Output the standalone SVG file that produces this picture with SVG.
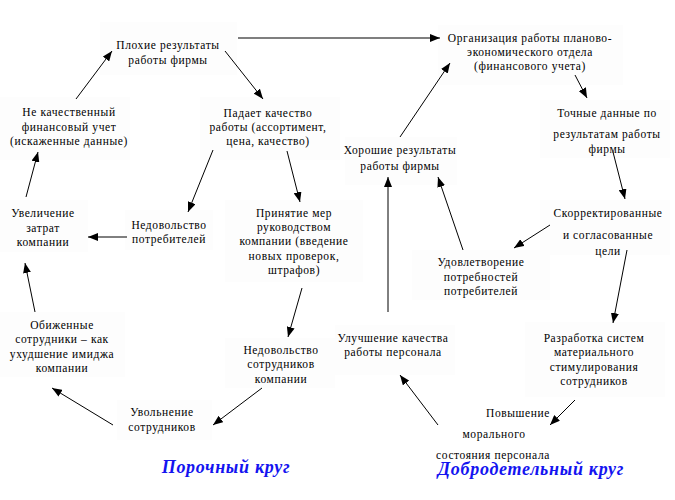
<svg xmlns="http://www.w3.org/2000/svg" width="675" height="500" viewBox="0 0 675 500">
<defs>
<marker id="ah" markerUnits="userSpaceOnUse" markerWidth="10" markerHeight="8" refX="10" refY="4" orient="auto">
<path d="M0,0 L10,4 L0,8 Z" fill="#000"/>
</marker>
<style>
text{font-family:'Liberation Serif','Times New Roman',serif;font-size:11.5px;letter-spacing:0.6px;fill:#000;text-anchor:middle}
.t{font-size:18px;font-weight:bold;font-style:italic;letter-spacing:0.7px;fill:#1414f0}
.c line{stroke:#000;stroke-width:1;marker-end:url(#ah)}
.bg{fill:#fdfdfd}
</style>
</defs>
<rect width="675" height="500" fill="#fff"/>
<g id="n1"><rect class="bg" x="100" y="22" width="137" height="53"/><text x="168" y="49">Плохие результаты</text><text x="168" y="64">работы фирмы</text></g>
<g id="n2"><rect class="bg" x="0" y="97" width="130" height="63"/><text x="69" y="116">Не качественный</text><text x="69" y="131">финансовый учет</text><text x="69" y="145">(искаженные данные)</text></g>
<g id="n3"><rect class="bg" x="200" y="97" width="140" height="63"/><text x="268" y="117">Падает качество</text><text x="268" y="131">работы (ассортимент,</text><text x="268" y="145">цена, качество)</text></g>
<g id="n4"><rect class="bg" x="0" y="200" width="88" height="52"/><text x="43" y="217">Увеличение</text><text x="43" y="232">затрат</text><text x="43" y="246">компании</text></g>
<g id="n5"><rect class="bg" x="125" y="210" width="88" height="40"/><text x="169" y="229">Недовольство</text><text x="169" y="243">потребителей</text></g>
<g id="n6"><rect class="bg" x="225" y="200" width="138" height="82"/><text x="294" y="217">Принятие мер</text><text x="294" y="231">руководством</text><text x="294" y="245">компании (введение</text><text x="294" y="260">новых проверок,</text><text x="294" y="274">штрафов)</text></g>
<g id="n7"><rect class="bg" x="0" y="312" width="125" height="65"/><text x="62" y="329">Обиженные</text><text x="62" y="343">сотрудники – как</text><text x="62" y="358">ухудшение имиджа</text><text x="62" y="372">компании</text></g>
<g id="n8"><rect class="bg" x="225" y="338" width="110" height="50"/><text x="281" y="354">Недовольство</text><text x="281" y="368">сотрудников</text><text x="281" y="383">компании</text></g>
<g id="n9"><rect class="bg" x="117" y="400" width="95" height="40"/><text x="162" y="416">Увольнение</text><text x="162" y="431">сотрудников</text></g>
<g id="n10"><text class="t" x="226" y="473">Порочный круг</text></g>
<g id="n11"><rect class="bg" x="438" y="25" width="185" height="60"/><text x="530" y="42">Организация работы планово-</text><text x="530" y="56">экономического отдела</text><text x="530" y="70">(финансового учета)</text></g>
<g id="n12"><rect class="bg" x="540" y="100" width="130" height="58"/><text x="607" y="117">Точные данные по</text><text x="607" y="138">результатам работы</text><text x="607" y="153">фирмы</text></g>
<g id="n13"><rect class="bg" x="345" y="137" width="112" height="48"/><text x="400" y="154">Хорошие результаты</text><text x="400" y="170">работы фирмы</text></g>
<g id="n14"><rect class="bg" x="540" y="200" width="130" height="55"/><text x="608" y="217">Скорректированные</text><text x="608" y="239">и согласованные</text><text x="608" y="255">цели</text></g>
<g id="n15"><rect class="bg" x="412" y="250" width="138" height="50"/><text x="481" y="266">Удовлетворение</text><text x="481" y="281">потребностей</text><text x="481" y="295">потребителей</text></g>
<g id="n16"><rect class="bg" x="335" y="325" width="120" height="50"/><text x="393" y="342">Улучшение качества</text><text x="393" y="356">работы персонала</text></g>
<g id="n17"><rect class="bg" x="525" y="322" width="140" height="75"/><text x="594" y="342">Разработка систем</text><text x="594" y="356">материального</text><text x="594" y="371">стимулирования</text><text x="594" y="385">сотрудников</text></g>
<g id="n19"><text class="t" x="531" y="475">Добродетельный круг</text></g>
<g id="n18"><text x="518" y="417">Повышение</text><text x="494" y="438">морального</text><text x="493" y="459">состояния персонала</text></g>
<g class="c" id="connectors">
<line x1="238" y1="38" x2="440" y2="38" style="stroke:#555;stroke-width:1.5"/>
<line x1="76" y1="99" x2="112" y2="51"/>
<line x1="225" y1="51" x2="263" y2="99"/>
<line x1="26" y1="197" x2="38" y2="152"/>
<line x1="213" y1="150" x2="188" y2="212"/>
<line x1="287" y1="151" x2="300" y2="202"/>
<line x1="127" y1="237" x2="88" y2="237"/>
<line x1="35" y1="312" x2="25" y2="263"/>
<line x1="302" y1="288" x2="288" y2="337"/>
<line x1="262" y1="388" x2="213" y2="425"/>
<line x1="113" y1="425" x2="52" y2="388"/>
<line x1="400" y1="137" x2="450" y2="63"/>
<line x1="575" y1="75" x2="587" y2="98"/>
<line x1="613" y1="152" x2="625" y2="199"/>
<line x1="550" y1="225" x2="514" y2="248"/>
<line x1="463" y1="250" x2="438" y2="177"/>
<line x1="388" y1="312" x2="388" y2="177"/>
<line x1="627" y1="250" x2="613" y2="323"/>
<line x1="575" y1="400" x2="550" y2="425"/>
<line x1="438" y1="425" x2="400" y2="375"/>
</g>
</svg>
